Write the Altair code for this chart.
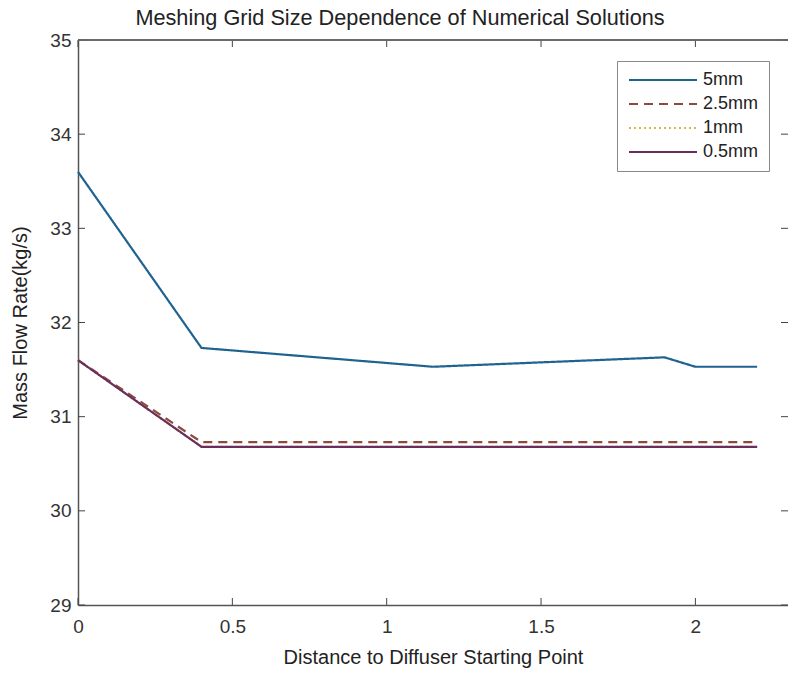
import altair as alt
import pandas as pd

series = ["5mm", "2.5mm", "1mm", "0.5mm"]
colors = ["#1f6391", "#8a4a3c", "#d4b84a", "#6b2d5c"]
dashes = [[1, 0], [9, 6], [2, 3], [1, 0]]

x_5mm = [0, 0.4, 1.15, 1.9, 2.0, 2.2]
y_5mm = [33.6, 31.73, 31.53, 31.63, 31.53, 31.53]
x_2_5mm = [0, 0.4, 2.2]
y_2_5mm = [31.6, 30.73, 30.73]
x_1mm = [0, 0.4, 2.2]
y_1mm = [31.6, 30.68, 30.68]
x_0_5mm = [0, 0.4, 2.2]
y_0_5mm = [31.6, 30.68, 30.68]

x_ticks = [0, 0.5, 1, 1.5, 2]
y_ticks = [29, 30, 31, 32, 33, 34, 35]

W, H = 710, 565
FONT = "Liberation Sans"

rows = []
for name, xs, ys in [("5mm", x_5mm, y_5mm), ("2.5mm", x_2_5mm, y_2_5mm),
                     ("1mm", x_1mm, y_1mm), ("0.5mm", x_0_5mm, y_0_5mm)]:
    for i, (a, b) in enumerate(zip(xs, ys)):
        rows.append({"series": name, "x": a, "y": b, "i": i})
df = pd.DataFrame(rows)

xscale = alt.Scale(domain=[0, 2.3], nice=False)
yscale = alt.Scale(domain=[29, 35], nice=False)
xaxis = alt.Axis(values=x_ticks, format="~g", title="Distance to Diffuser Starting Point",
                 ticks=False, tickSize=0, grid=False, labelPadding=12,
                 titlePadding=11, labelFlush=False)
yaxis = alt.Axis(values=y_ticks, format="~g", title="Mass Flow Rate(kg/s)",
                 ticks=False, tickSize=0, grid=False, labelPadding=7,
                 titlePadding=19, labelFlush=False)

# legend symbol: a horizontal stroke drawn through a custom path
SYM_SIZE = 185
leg = alt.Legend(
    orient="none", legendX=539, legendY=21, title=None,
    strokeColor="#888888", fillColor="white", padding=10,
    labelFont=FONT, labelFontSize=18, labelColor="#222222",
    symbolType="M-5,0H5", symbolSize=SYM_SIZE, symbolStrokeWidth=2,
    symbolOffset=27, labelOffset=31, rowPadding=6,
)

layers = []
for k, name in enumerate(series):
    layers.append(
        alt.Chart(df).transform_filter(alt.datum.series == name)
        .mark_line(strokeWidth=2.2)
        .encode(
            x=alt.X("x:Q", scale=xscale, axis=xaxis),
            y=alt.Y("y:Q", scale=yscale, axis=yaxis),
            color=alt.Color("series:N", scale=alt.Scale(domain=series, range=colors), legend=leg),
            strokeDash=alt.StrokeDash("series:N", scale=alt.Scale(domain=series, range=dashes), legend=leg),
            order="i:Q",
        )
    )

xt = pd.DataFrame({"x": x_ticks})
yt = pd.DataFrame({"y": y_ticks})
tick_color = "#444444"
ticks_bottom = alt.Chart(xt).mark_rule(color=tick_color).encode(
    x=alt.X("x:Q", scale=xscale, axis=xaxis), y=alt.value(H), y2=alt.value(H - 7))
ticks_top = alt.Chart(xt).mark_rule(color=tick_color).encode(
    x=alt.X("x:Q", scale=xscale, axis=xaxis), y=alt.value(0), y2=alt.value(7))
ticks_left = alt.Chart(yt).mark_rule(color=tick_color).encode(
    y=alt.Y("y:Q", scale=yscale, axis=yaxis), x=alt.value(0), x2=alt.value(7))
ticks_right = alt.Chart(yt).mark_rule(color=tick_color).encode(
    y=alt.Y("y:Q", scale=yscale, axis=yaxis), x=alt.value(W), x2=alt.value(W - 7))
top_border = alt.Chart(xt).mark_rule(color="#666666", strokeWidth=1.2).encode(
    x=alt.value(0), x2=alt.value(W), y=alt.value(0))

chart = alt.layer(*layers, ticks_bottom, ticks_top, ticks_left, ticks_right, top_border).properties(
    width=W, height=H,
    title=alt.TitleParams(
        "Meshing Grid Size Dependence of Numerical Solutions",
        font=FONT, fontSize=21.7, fontWeight="normal", color="#222222",
        anchor="middle", dx=-33, offset=1,
    ),
    autosize=alt.AutoSizeParams(type="none"),
    padding={"left": 78, "top": 40, "right": 0, "bottom": 69},
).configure_view(stroke=None).configure_axis(
    domainColor="#555555", domainWidth=1.5,
    labelFont=FONT, labelFontSize=19, labelColor="#333333",
    titleFont=FONT, titleFontSize=20, titleColor="#222222", titleFontWeight="normal",
)

chart.save("out.html", embed_options={"renderer": "svg", "actions": False})
